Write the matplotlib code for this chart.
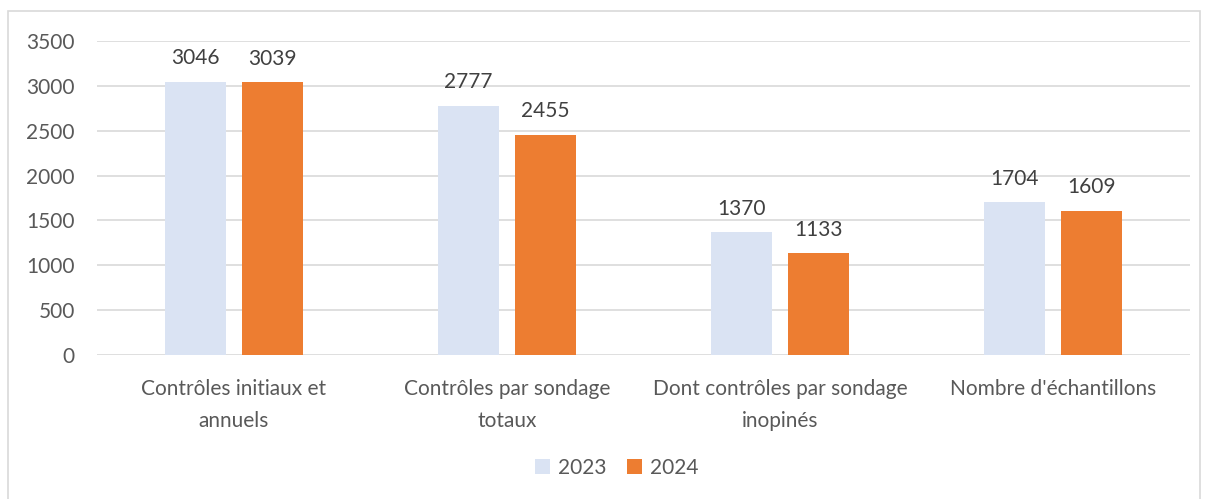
import matplotlib.pyplot as plt
import numpy as np
from matplotlib.patches import Rectangle

categories = ["Contrôles initiaux et\nannuels", "Contrôles par sondage\ntotaux",
              "Dont contrôles par sondage\ninopinés", "Nombre d'échantillons"]
v2023 = [3046, 2777, 1370, 1704]
v2024 = [3039, 2455, 1133, 1609]

plt.rcParams['font.family'] = ['Lato', 'DejaVu Sans']
txt = '#595959'
fs = 15

fig = plt.figure(figsize=(12.05, 4.99), dpi=100)
fig.patches.append(Rectangle((8 / 1205, -0.01), 1192 / 1205, 1 - 11 / 499 + 0.01,
                             transform=fig.transFigure, fill=False,
                             edgecolor='#D9D9D9', linewidth=1.2))
ax = fig.add_axes([97 / 1205, 1 - 355 / 499, 1093 / 1205, 314 / 499])

x = np.arange(len(categories))
w = 0.223
b1 = ax.bar(x - 0.141, v2023, w, color='#DAE3F3', label='2023', zorder=2)
b2 = ax.bar(x + 0.141, v2024, w, color='#ED7D31', label='2024', zorder=2)
for bars in (b1, b2):
    for r in bars:
        ax.text(r.get_x() + r.get_width() / 2, r.get_height() + 150, f"{int(r.get_height())}",
                ha='center', va='bottom', fontsize=fs, color='#404040')

ax.set_xlim(-0.5, 3.5)
ax.set_ylim(0, 3500)
ax.set_yticks(range(0, 3501, 500))
ax.yaxis.grid(True, color='#D9D9D9', linewidth=1.2, zorder=0)
for s in ax.spines.values():
    s.set_visible(False)
ax.tick_params(length=0, colors=txt, labelsize=fs)
ax.tick_params(axis='y', pad=16)
ax.tick_params(axis='x', pad=17)
ax.set_xticks(x)
ax.set_xticklabels(categories, linespacing=1.75)

fig.legend(loc='center', bbox_to_anchor=(617 / 1205, 1 - 468 / 499), ncol=2, frameon=False,
           fontsize=fs, labelcolor=txt, handlelength=0.7, handleheight=0.7,
           columnspacing=1.0, handletextpad=0.4)

plt.savefig('out.png', dpi=100)
